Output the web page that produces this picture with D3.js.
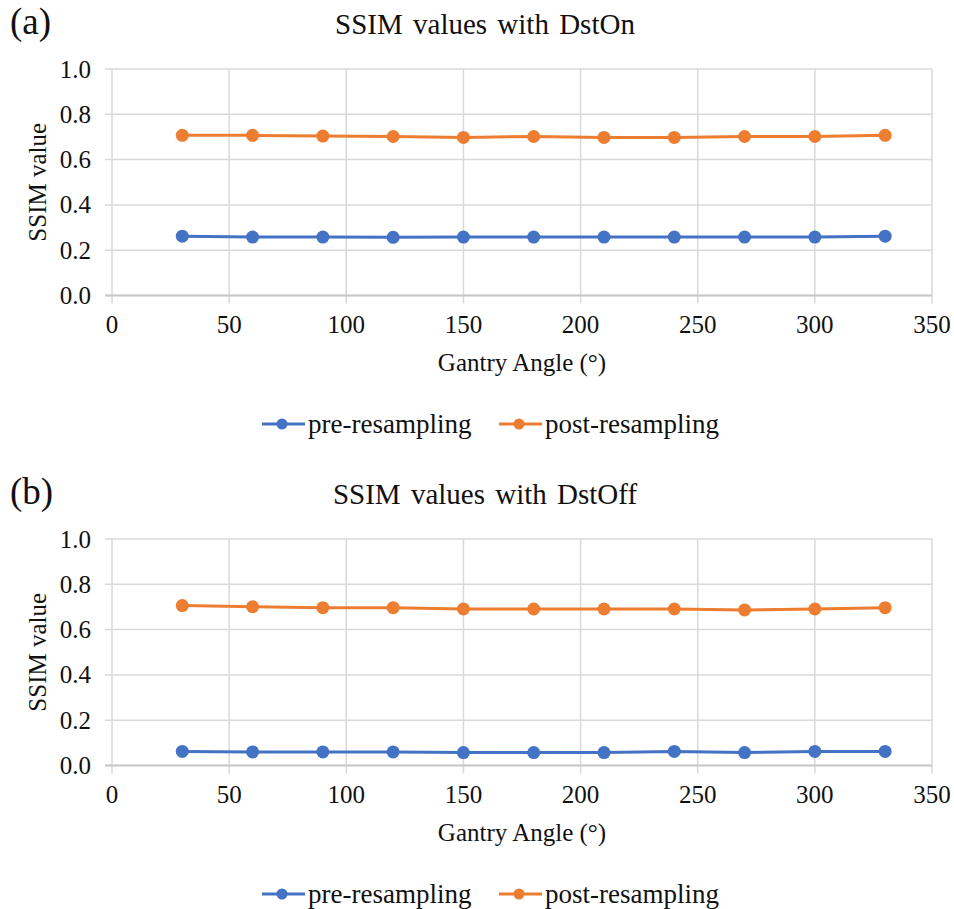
<!DOCTYPE html>
<html>
<head>
<meta charset="utf-8">
<script src="https://cdn.jsdelivr.net/npm/d3@7/dist/d3.min.js"></script>
</head>
<body style="margin:0">
<svg id="s" width="954" height="909"></svg>
<script>
// ---- Data ----
const angles = [30, 60, 90, 120, 150, 180, 210, 240, 270, 300, 330];
const dstOnPre  = [0.262, 0.258, 0.258, 0.257, 0.258, 0.258, 0.258, 0.258, 0.258, 0.258, 0.262];
const dstOnPost = [0.707, 0.707, 0.704, 0.702, 0.698, 0.702, 0.698, 0.698, 0.702, 0.702, 0.707];
const dstOffPre  = [0.062, 0.060, 0.060, 0.060, 0.057, 0.057, 0.057, 0.062, 0.057, 0.062, 0.062];
const dstOffPost = [0.706, 0.701, 0.697, 0.697, 0.691, 0.691, 0.691, 0.691, 0.687, 0.691, 0.697];
const xTicks = [0, 50, 100, 150, 200, 250, 300, 350];
const yTicks = [0.0, 0.2, 0.4, 0.6, 0.8, 1.0];
const seriesNames = ["pre-resampling", "post-resampling"];
const seriesColors = ["#4472C4", "#ED7D31"];
const panelLabels = ["(a)", "(b)"];
const panelTitles = ["SSIM values with DstOn", "SSIM values with DstOff"];
const xTitle = "Gantry Angle (°)";
const yTitle = "SSIM value";

const panels = [
  { label: panelLabels[0], title: panelTitles[0], series: [dstOnPre, dstOnPost] },
  { label: panelLabels[1], title: panelTitles[1], series: [dstOffPre, dstOffPost] }
];

const fontName = "Liberation Serif";
const svg = d3.select("#s");
const plotLeft = 112, plotRight = 932, plotTop = 69, plotBottom = 295.5;
const panelOffset = 470;
const grid = "#d9d9d9";

const x = d3.scaleLinear().domain([0, 350]).range([plotLeft, plotRight]);
const y = d3.scaleLinear().domain([0, 1]).range([plotBottom, plotTop]);

function txt(sel, size) {
  return sel.attr("font-size", size)
    .style("font-family", () => `"${fontName}"`)
    .attr("fill", "#111");
}

panels.forEach((p, pi) => {
  const g = svg.append("g").attr("transform", `translate(0,${pi * panelOffset})`);

  txt(g.append("text"), 37).attr("x", 10).attr("y", 34).text(p.label);

  txt(g.append("text"), 29).attr("x", 485).attr("y", 34).attr("text-anchor", "middle")
    .attr("word-spacing", 3).text(p.title);

  g.append("g").selectAll("line").data(yTicks).join("line")
    .attr("x1", plotLeft - 7).attr("x2", plotRight)
    .attr("y1", d => y(d)).attr("y2", d => y(d))
    .attr("stroke", grid).attr("stroke-width", 1.5);

  g.append("g").selectAll("line").data(xTicks).join("line")
    .attr("x1", d => x(d)).attr("x2", d => x(d))
    .attr("y1", plotTop).attr("y2", plotBottom + 8)
    .attr("stroke", grid).attr("stroke-width", 1.5);

  g.append("line").attr("x1", plotLeft - 7).attr("x2", plotRight)
    .attr("y1", y(0)).attr("y2", y(0)).attr("stroke", "#c8c8c8").attr("stroke-width", 2);

  txt(g.append("g").selectAll("text").data(yTicks).join("text"), 25)
    .attr("x", 91).attr("y", d => y(d)).attr("dy", "0.34em")
    .attr("text-anchor", "end")
    .text(d => d3.format(".1f")(d));

  txt(g.append("g").selectAll("text").data(xTicks).join("text"), 25)
    .attr("x", d => x(d)).attr("y", 333)
    .attr("text-anchor", "middle")
    .text(d => d);

  txt(g.append("text"), 25).attr("x", (plotLeft + plotRight) / 2).attr("y", 371)
    .attr("text-anchor", "middle").text(xTitle);
  txt(g.append("text"), 25)
    .attr("transform", `translate(46,${(plotTop + plotBottom) / 2}) rotate(-90)`)
    .attr("text-anchor", "middle").text(yTitle);

  const line = d3.line().x((d, i) => x(angles[i])).y(d => y(d));
  p.series.forEach((vals, si) => {
    g.append("path").datum(vals).attr("d", line)
      .attr("fill", "none").attr("stroke", seriesColors[si]).attr("stroke-width", 3);
    g.append("g").selectAll("circle").data(vals).join("circle")
      .attr("cx", (d, i) => x(angles[i])).attr("cy", d => y(d)).attr("r", 6.5)
      .attr("fill", seriesColors[si]);
  });

  const legX = [262, 499];
  const legY = 424;
  seriesNames.forEach((name, si) => {
    const lg = g.append("g");
    lg.append("line").attr("x1", legX[si]).attr("x2", legX[si] + 43)
      .attr("y1", legY).attr("y2", legY)
      .attr("stroke", seriesColors[si]).attr("stroke-width", 3);
    lg.append("circle").attr("cx", legX[si] + 20).attr("cy", legY).attr("r", 5.5)
      .attr("fill", seriesColors[si]);
    txt(lg.append("text"), 27).attr("x", legX[si] + 46).attr("y", legY + 9).text(name);
  });
});
</script>
</body>
</html>
